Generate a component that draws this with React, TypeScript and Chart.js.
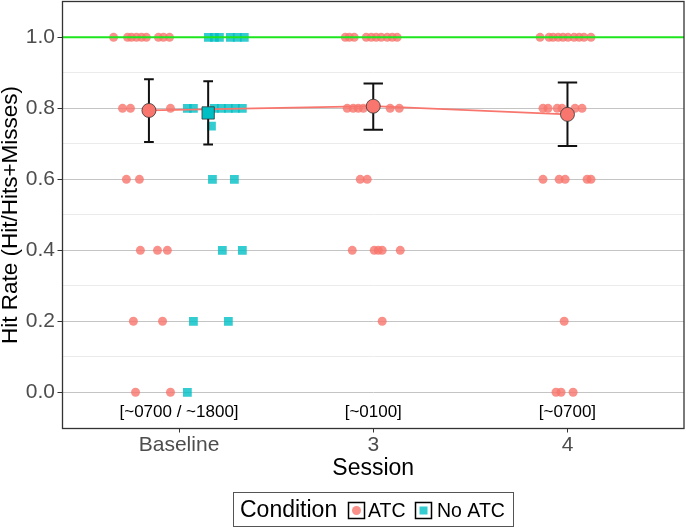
import React, { useEffect, useRef } from 'react';
import { Chart, registerables } from 'chart.js';

Chart.register(...registerables);

const sessions = ['Baseline', '3', '4'];
const sessionPos = [1, 2, 3];
const clockLabels = ['[~0700 / ~1800]', '[~0100]', '[~0700]'];
const clockLabelY = -0.057;

const yMajor = [0, 0.2, 0.4, 0.6, 0.8, 1.0];
const yMinor = [0.1, 0.3, 0.5, 0.7, 0.9];
const referenceRate = 1.0;

// group means with error bars (No ATC only ran at baseline)
const atcMeanX = [0.845, 2, 3];
const atcMean = [0.794, 0.806, 0.783];
const atcLow = [0.705, 0.74, 0.694];
const atcHigh = [0.882, 0.87, 0.873];
const noAtcMeanX = [1.15];
const noAtcMean = [0.787];
const noAtcLow = [0.698];
const noAtcHigh = [0.876];

// individual hit rates, [jittered x, hit rate]
const atcBaseline: [number, number][] = [
  [0.663, 1], [0.735, 1], [0.755, 1], [0.781, 1], [0.807, 1], [0.832, 1], [0.894, 1], [0.92, 1], [0.951, 1],
  [0.709, 0.8], [0.75, 0.8], [0.848, 0.8], [0.956, 0.8],
  [0.729, 0.6], [0.796, 0.6],
  [0.801, 0.4], [0.889, 0.4], [0.94, 0.4],
  [0.765, 0.2], [0.915, 0.2],
  [0.776, 0], [0.956, 0],
];
const noAtcBaseline: [number, number][] = [
  [1.151, 1], [1.182, 1], [1.208, 1], [1.264, 1], [1.3, 1], [1.336, 1],
  [1.043, 0.8], [1.074, 0.8], [1.182, 0.8], [1.218, 0.8], [1.254, 0.8], [1.29, 0.8], [1.326, 0.8],
  [1.167, 0.75],
  [1.172, 0.6], [1.285, 0.6],
  [1.223, 0.4], [1.326, 0.4],
  [1.074, 0.2], [1.254, 0.2],
  [1.043, 0],
];
const atcSession3: [number, number][] = [
  [1.856, 1], [1.877, 1], [1.902, 1], [1.964, 1], [1.99, 1], [2.015, 1], [2.041, 1], [2.072, 1], [2.098, 1], [2.123, 1],
  [1.866, 0.8], [1.897, 0.8], [1.923, 0.8], [1.949, 0.8], [2.087, 0.8], [2.134, 0.8],
  [1.933, 0.6], [1.969, 0.6],
  [1.892, 0.4], [2.005, 0.4], [2.026, 0.4], [2.046, 0.4], [2.139, 0.4],
  [2.046, 0.2],
];
const atcSession4: [number, number][] = [
  [2.859, 1], [2.905, 1], [2.926, 1], [2.952, 1], [2.977, 1], [3.003, 1], [3.034, 1], [3.06, 1], [3.085, 1], [3.121, 1],
  [2.874, 0.8], [2.9, 0.8], [2.947, 0.8], [2.972, 0.8], [3.039, 0.8], [3.075, 0.8],
  [2.874, 0.6], [2.957, 0.6], [2.988, 0.6], [3.101, 0.6], [3.121, 0.6],
  [2.983, 0.2],
  [2.941, 0], [2.967, 0], [3.029, 0],
];

const FONT = '"Liberation Sans", Arial, sans-serif';
const RED = '#F8766D';
const TEAL = '#00BFC4';
const RED_A = 'rgba(248,118,109,0.8)';
const TEAL_A = 'rgba(0,191,196,0.8)';

const toXY = (pts: [number, number][]) => pts.map(([x, y]) => ({ x, y }));
const isMajor = (v: number) => yMajor.some(m => Math.abs(m - v) < 1e-6);

const extras = {
  id: 'extras',
  afterDatasetDraw(chart: any, args: any) {
    if (args.index !== 2) return;
    const { ctx, scales: { x, y } } = chart;
    const bars = [
      ...atcMeanX.map((mx, i) => ({ mx, lo: atcLow[i], hi: atcHigh[i] })),
      ...noAtcMeanX.map((mx, i) => ({ mx, lo: noAtcLow[i], hi: noAtcHigh[i] })),
    ];
    ctx.save();
    ctx.strokeStyle = '#111';
    ctx.lineWidth = 2;
    bars.forEach(b => {
      const dodged = Math.abs(b.mx - Math.round(b.mx)) > 0.01;
      const half = dodged ? 0.025 : 0.05;
      const px = x.getPixelForValue(b.mx);
      const x0 = x.getPixelForValue(b.mx - half);
      const x1 = x.getPixelForValue(b.mx + half);
      const yl = y.getPixelForValue(b.lo);
      const yh = y.getPixelForValue(b.hi);
      ctx.beginPath();
      ctx.moveTo(px, yl); ctx.lineTo(px, yh);
      ctx.moveTo(x0, yl); ctx.lineTo(x1, yl);
      ctx.moveTo(x0, yh); ctx.lineTo(x1, yh);
      ctx.stroke();
    });
    ctx.restore();
  },
  afterDraw(chart: any) {
    const { ctx, chartArea: a, scales: { x, y } } = chart;
    ctx.save();
    // session clock labels
    ctx.fillStyle = '#000';
    ctx.font = `17px ${FONT}`;
    ctx.textAlign = 'center';
    ctx.textBaseline = 'middle';
    sessionPos.forEach((p, i) => {
      ctx.fillText(clockLabels[i], x.getPixelForValue(p), y.getPixelForValue(clockLabelY));
    });
    // panel border
    ctx.strokeStyle = '#333';
    ctx.lineWidth = 1.3;
    ctx.strokeRect(a.left, a.top, a.right - a.left, a.bottom - a.top);
    // legend
    ctx.lineWidth = 1;
    ctx.strokeStyle = '#555';
    ctx.strokeRect(233.5, 492.5, 280, 34);
    ctx.textAlign = 'left';
    ctx.textBaseline = 'alphabetic';
    ctx.font = `23px ${FONT}`;
    ctx.fillText('Condition', 240, 517);
    ctx.lineWidth = 1.5;
    ctx.strokeStyle = '#000';
    ctx.strokeRect(348.5, 502.5, 16, 16);
    ctx.fillStyle = RED_A;
    ctx.beginPath();
    ctx.arc(356.5, 510.5, 4.5, 0, Math.PI * 2);
    ctx.fill();
    ctx.strokeRect(415.5, 502.5, 16, 16);
    ctx.fillStyle = TEAL_A;
    ctx.fillRect(419.5, 506.5, 8, 8);
    ctx.fillStyle = '#000';
    ctx.font = `19.5px ${FONT}`;
    ctx.fillText('ATC', 368, 517);
    ctx.fillText('No ATC', 437, 517);
    ctx.restore();
  },
};

const App: React.FC = () => {
  const canvasRef = useRef<HTMLCanvasElement>(null);
  const chartRef = useRef<Chart | null>(null);

  useEffect(() => {
    if (!canvasRef.current) return;
    if (chartRef.current) chartRef.current.destroy();

    chartRef.current = new Chart(canvasRef.current, {
      type: 'scatter',
      data: {
        datasets: [
          {
            label: 'ATC mean',
            data: atcMeanX.map((x, i) => ({ x, y: atcMean[i] })),
            pointStyle: 'circle',
            pointRadius: 7,
            backgroundColor: RED,
            borderColor: '#333',
            borderWidth: 0.8,
            order: 0,
          },
          {
            label: 'No ATC mean',
            data: noAtcMeanX.map((x, i) => ({ x, y: noAtcMean[i] })),
            pointStyle: 'rect',
            pointRadius: 8.7,
            backgroundColor: TEAL,
            borderColor: '#333',
            borderWidth: 0.8,
            order: 1,
          },
          {
            type: 'line',
            label: 'ATC trend',
            data: atcMeanX.map((x, i) => ({ x, y: atcMean[i] })),
            borderColor: RED,
            borderWidth: 1.8,
            pointRadius: 0,
            fill: false,
            order: 2,
          } as any,
          {
            type: 'line',
            label: 'reference',
            data: [{ x: 0.4, y: referenceRate }, { x: 3.6, y: referenceRate }],
            borderColor: 'rgb(30,230,30)',
            borderWidth: 2,
            pointRadius: 0,
            fill: false,
            order: 3,
          } as any,
          {
            label: 'ATC',
            data: [...toXY(atcBaseline), ...toXY(atcSession3), ...toXY(atcSession4)],
            pointStyle: 'circle',
            pointRadius: 4.5,
            backgroundColor: RED_A,
            borderWidth: 0,
            order: 4,
          },
          {
            label: 'No ATC',
            data: toXY(noAtcBaseline),
            pointStyle: 'rect',
            pointRadius: 6.2,
            backgroundColor: TEAL_A,
            borderWidth: 0,
            order: 5,
          },
        ],
      },
      options: {
        animation: false,
        responsive: false,
        layout: { autoPadding: false, padding: { top: 1.5, right: 1, bottom: 48, left: 0 } },
        plugins: { legend: { display: false }, tooltip: { enabled: false } },
        scales: {
          x: {
            type: 'linear',
            min: 0.4,
            max: 3.6,
            afterBuildTicks: (s: any) => { s.ticks = sessionPos.map(v => ({ value: v })); },
            afterFit: (s: any) => {
              s.height = 51.5;
              s.paddingLeft = 0;
              s.paddingRight = 0;
            },
            border: { display: false },
            grid: { drawOnChartArea: false, drawTicks: true, tickLength: 4, tickColor: '#333', tickWidth: 1 },
            ticks: {
              autoSkip: false,
              maxRotation: 0,
              padding: 2,
              color: '#4d4d4d',
              font: { family: FONT, size: 21, lineHeight: 1 },
              callback: (v: any) => sessions[sessionPos.indexOf(Number(v))] ?? '',
            },
            title: {
              display: true,
              text: 'Session',
              color: '#000',
              padding: 0,
              font: { family: FONT, size: 23, lineHeight: 1 },
            },
          },
          y: {
            min: -0.102,
            max: 1.101,
            afterBuildTicks: (s: any) => {
              s.ticks = [...yMajor, ...yMinor].sort((a, b) => a - b).map(v => ({ value: v }));
            },
            afterFit: (s: any) => {
              s.width = 62.5;
              s.paddingTop = 0;
              s.paddingBottom = 0;
            },
            border: { display: false },
            grid: {
              color: (c: any) => (isMajor(c.tick.value) ? '#c4c4c4' : '#ebebeb'),
              tickColor: (c: any) => (isMajor(c.tick.value) ? '#333' : 'rgba(0,0,0,0)'),
              lineWidth: 1,
              tickLength: 5,
            },
            ticks: {
              padding: 2.5,
              color: '#4d4d4d',
              font: { family: FONT, size: 21, lineHeight: 1 },
              callback: (v: any) => (isMajor(Number(v)) ? Number(v).toFixed(1) : ''),
            },
            title: {
              display: true,
              text: 'Hit Rate (Hit/Hits+Misses)',
              color: '#000',
              padding: 0,
              font: { family: FONT, size: 22.5, lineHeight: 1 },
            },
          },
        },
      },
      plugins: [extras],
    });

    return () => {
      if (chartRef.current) {
        chartRef.current.destroy();
        chartRef.current = null;
      }
    };
  }, []);

  return (
    <div style={{ position: 'absolute', left: 0, top: 0, width: 685, height: 528, background: '#fff' }}>
      <canvas ref={canvasRef} width={685} height={528} style={{ display: 'block' }} />
    </div>
  );
};

export default App;
